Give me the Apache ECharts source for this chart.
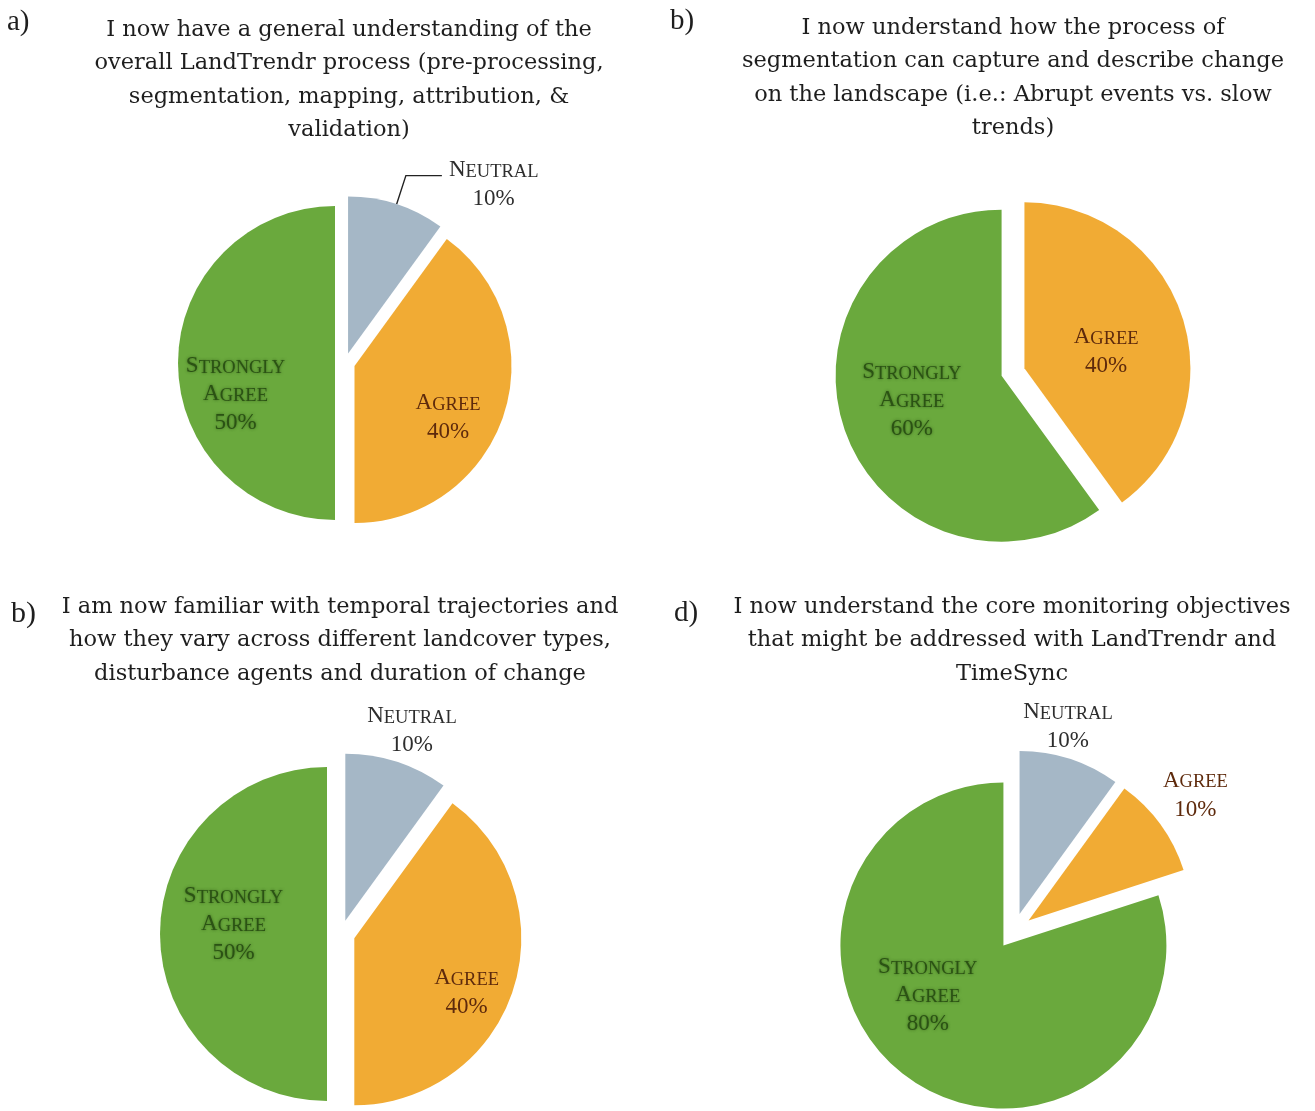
<!DOCTYPE html>
<html>
<head>
<meta charset="utf-8">
<script src="https://cdn.jsdelivr.net/npm/echarts@6/dist/echarts.min.js"></script>
<style>
  html, body { margin: 0; padding: 0; background: #ffffff; }
  #chart { width: 1315px; height: 1111px; }
</style>
</head>
<body>
<div id="chart"></div>
<script>
// Survey answer categories (same order in every panel, drawn clockwise from 12 o'clock)
const categories = ['Neutral', 'Agree', 'Strongly Agree'];

// Percent of respondents per category, one array per question
const sharesA = [10, 40, 50];
const sharesB = [0, 40, 60];
const sharesC = [10, 40, 50];
const sharesD = [10, 10, 80];

// Panel tags and question wording
const panelTags = ['a)', 'b)', 'b)', 'd)'];
const questionA = [
  'I now have a general understanding of the',
  'overall LandTrendr process (pre-processing,',
  'segmentation, mapping, attribution, &',
  'validation)'
];
const questionB = [
  'I now understand how the process of',
  'segmentation can capture and describe change',
  'on the landscape (i.e.: Abrupt events vs. slow',
  'trends)'
];
const questionC = [
  'I am now familiar with temporal trajectories and',
  'how they vary across different landcover types,',
  'disturbance agents and duration of change'
];
const questionD = [
  'I now understand the core monitoring objectives',
  'that might be addressed with LandTrendr and',
  'TimeSync'
];

// ---- styling ----
const SERIF = '"Liberation Serif", "Times New Roman", serif';
const TITLE_SERIF = '"DejaVu Serif", "Liberation Serif", serif';
const sliceColors = { 'Neutral': '#a5b7c6', 'Agree': '#f1ab34', 'Strongly Agree': '#6aa93d' };
const labelColors = { 'Neutral': '#2e2e2e', 'Agree': '#5e2a0c', 'Strongly Agree': '#2b5214' };

// Layout of each panel; label tweaks are keyed by category name
const panels = [
  {
    shares: sharesA, question: questionA, tag: panelTags[0],
    center: [345, 363], radius: 157, offset: 10,
    titleX: 349, titleY: 30, tagX: 7, tagY: 22, tagSize: 29,
    labels: {
      'Neutral': { outside: true, line: true },
      'Agree': { dx: 16, dy: 24 },
      'Strongly Agree': { dx: -18, dy: 29 }
    }
  },
  {
    shares: sharesB, question: questionB, tag: panelTags[1],
    center: [1013, 372], radius: 166, offset: 12,
    titleX: 1013, titleY: 28, tagX: 670, tagY: 21, tagSize: 29,
    labels: {
      'Agree': { dx: 0, dy: 7 },
      'Strongly Agree': { dx: -8, dy: -4 }
    }
  },
  {
    shares: sharesC, question: questionC, tag: panelTags[2],
    center: [341, 934], radius: 167, offset: 14,
    titleX: 340, titleY: 607, tagX: 11, tagY: 614, tagSize: 30,
    labels: {
      'Neutral': { outside: true, dx: 10, dy: -34 },
      'Agree': { dx: 30, dy: 25 },
      'Strongly Agree': { dx: -7, dy: -12 }
    }
  },
  {
    shares: sharesD, question: questionD, tag: panelTags[3],
    center: [1014, 931], radius: 163, offset: 18,
    titleX: 1012, titleY: 607, tagX: 674, tagY: 613, tagSize: 29,
    labels: {
      'Neutral': { outside: true, dx: -7, dy: -35 },
      'Agree': { outside: true, dx: 30, dy: -32 },
      'Strongly Agree': { dx: -26, dy: -21 }
    }
  }
];

// Small-caps lettering: first letter full size, the rest smaller capitals
function smallCaps(word) {
  return '{cap|' + word.charAt(0).toUpperCase() + '}{sm|' + word.slice(1).toUpperCase() + '}';
}
function labelText(name, value) {
  return name.split(' ').map(smallCaps).join('\n') + '\n{pct|' + value + '%}';
}
const richStyles = {
  cap: { fontFamily: SERIF, fontSize: 23, lineHeight: 28, verticalAlign: 'bottom', align: 'center' },
  sm: { fontFamily: SERIF, fontSize: 18.5, lineHeight: 25, verticalAlign: 'bottom', align: 'center' },
  pct: { fontFamily: SERIF, fontSize: 23, lineHeight: 29, verticalAlign: 'bottom', align: 'center' }
};

const series = panels.map(function (panel) {
  const data = [];
  const shifts = [];
  categories.forEach(function (name, i) {
    const value = panel.shares[i];
    if (!value) return;
    const cfg = panel.labels[name] || {};
    const item = {
      name: name,
      value: value,
      selected: true,
      itemStyle: { color: sliceColors[name] },
      label: {
        position: cfg.outside ? 'outside' : 'inside',
        color: labelColors[name],
        formatter: labelText(name, value),
        rich: richStyles
      },
      labelLine: cfg.line
        ? { show: true, length: 30, length2: 36, lineStyle: { color: '#222', width: 1.4 } }
        : { show: false, length: 0, length2: 0 }
    };
    if (name === 'Strongly Agree') {
      // the text on the green wedge is soft and smeared
      item.label.textShadowColor = 'rgba(40, 80, 18, 0.75)';
      item.label.textShadowBlur = 3;
    }
    if (cfg.line) {
      item.label.distanceToLabelLine = 7;
      item.label.padding = [12, 0, 0, 0];
    }
    data.push(item);
    shifts.push(cfg);
  });
  return {
    type: 'pie',
    center: panel.center,
    radius: panel.radius,
    startAngle: 90,
    clockwise: true,
    selectedMode: 'multiple',
    selectedOffset: panel.offset,
    avoidLabelOverlap: false,
    animation: false,
    silent: true,
    itemStyle: { borderWidth: 0 },
    emphasis: { disabled: true },
    data: data,
    labelLayout: function (p) {
      const s = shifts[p.dataIndex] || {};
      if (s.line) return {};
      const out = { dx: s.dx || 0, dy: s.dy || 0 };
      if (s.outside) { out.align = 'center'; out.verticalAlign = 'middle'; }
      return out;
    }
  };
});

// Question titles and panel tags as text elements
const graphics = [];
panels.forEach(function (panel) {
  graphics.push({
    type: 'text',
    silent: true,
    style: {
      text: panel.tag,
      x: panel.tagX, y: panel.tagY,
      textAlign: 'left', textVerticalAlign: 'middle',
      font: panel.tagSize + 'px ' + SERIF,
      fill: '#1e1e1e'
    }
  });
  graphics.push({
    type: 'text',
    silent: true,
    style: {
      text: panel.question.join('\n'),
      x: panel.titleX, y: panel.titleY - 17,
      textAlign: 'center', textVerticalAlign: 'top',
      font: '22.5px ' + TITLE_SERIF,
      lineHeight: 33.5,
      fill: '#1e1e1e'
    }
  });
});

const chart = echarts.init(document.getElementById('chart'), null, { renderer: 'canvas' });
chart.setOption({
  backgroundColor: '#ffffff',
  animation: false,
  graphic: graphics,
  series: series
});
</script>
</body>
</html>
